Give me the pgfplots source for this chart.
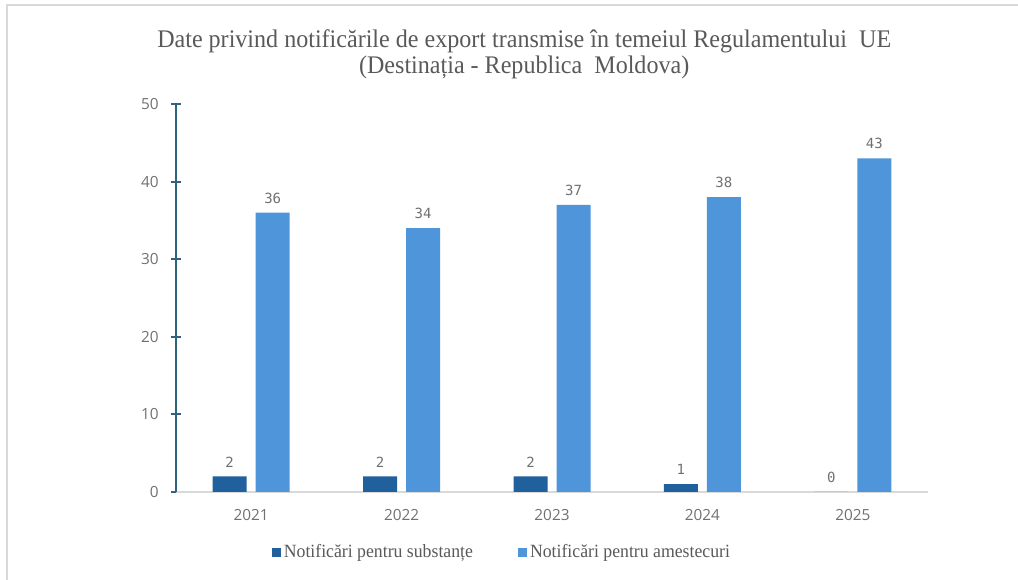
\documentclass[border=0pt]{standalone}
\usepackage{pgfplots}
\pgfplotsset{compat=1.18}
\usepackage{graphicx}
\usepackage{fontspec}
\setmainfont{Liberation Serif}
\newfontfamily\tickfont{Open Sans}
\newfontfamily\valfont{DejaVu Sans Mono}
\definecolor{darkbar}{HTML}{20609C}
\definecolor{lightbar}{HTML}{4E95D9}
\definecolor{txtgray}{HTML}{595959}
\definecolor{tickgray}{HTML}{707070}
\definecolor{yaxcol}{HTML}{2C6482}
\definecolor{xaxcol}{HTML}{D9D9D9}
\definecolor{framecol}{HTML}{D9D9D9}
\begin{document}
\begin{tikzpicture}
\useasboundingbox (0,0) rectangle (763.5pt,435pt);
\draw[framecol, line width=1.5pt] (5.25pt,0pt) -- (5.25pt,431.25pt) -- (763.5pt,431.25pt);
\begin{axis}[
  at={(132pt,66pt)}, anchor=south west,
  scale only axis, width=564pt, height=291pt,
  xmin=-0.5, xmax=4.5, ymin=0, ymax=50,
  clip=false,
  ybar=6.75pt, bar width=25.5pt,
  axis x line*=bottom, axis y line*=left,
  x axis line style={draw=xaxcol, line width=1pt},
  y axis line style={draw=yaxcol, line width=1.5pt},
  xtick={0,1,2,3,4},
  xticklabels={2021,2022,2023,2024,2025},
  x tick style={draw=none},
  ytick={0,10,20,30,40,50},
  y tick style={draw=yaxcol, line width=1.5pt},
  major tick length=7pt, tick align=center,
  tick label style={font=\tickfont\fontsize{11.5pt}{13pt}\selectfont, text=tickgray},
  yticklabel style={xshift=-6pt},
  xticklabel style={yshift=-6pt},
  /pgf/number format/assume math mode=true,
  nodes near coords,
  every node near coord/.append style={font=\valfont\fontsize{10.5pt}{12pt}\selectfont, text=tickgray, yshift=3.5pt},
  title={\scalebox{0.95}[1]{Date privind notificările de export transmise în temeiul Regulamentului~ UE}\\\scalebox{0.95}[1]{(Destinația - Republica~ Moldova)}},
  title style={at={(axis description cs:0.463,1.108)}, anchor=center, align=center, font=\fontsize{19pt}{19.5pt}\selectfont, text=txtgray},
  legend columns=2,
  legend style={draw=none, fill=none, at={(axis description cs:0.434,-0.155)}, anchor=center,
    font=\fontsize{14pt}{16pt}\selectfont, text=txtgray,
    /tikz/every even column/.append style={column sep=32pt}},
  legend image code/.code={\fill[#1] (0pt,-3.4pt) rectangle (6.8pt,3.4pt);},
]
\addplot[fill=darkbar, draw=none] coordinates {(0,2) (1,2) (2,2) (3,1) (4,0)};
\addplot[fill=lightbar, draw=none] coordinates {(0,36) (1,34) (2,37) (3,38) (4,43)};
\legend{\scalebox{0.95}[1]{Notificări pentru substanțe},\scalebox{0.95}[1]{Notificări pentru amestecuri}}
\end{axis}
\end{tikzpicture}
\end{document}
